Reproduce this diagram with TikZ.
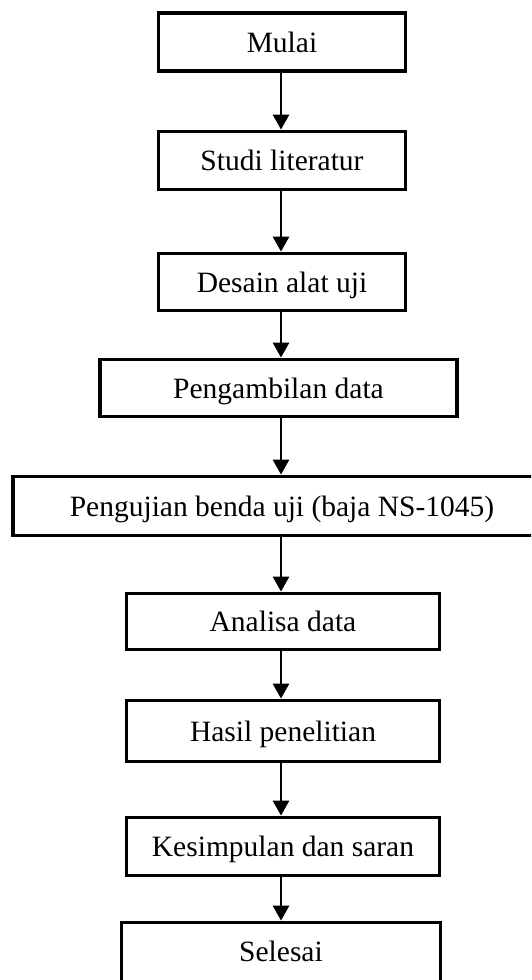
\documentclass[tikz,border=0pt]{standalone}
\usepackage{fontspec}
\setmainfont{Liberation Serif}
\usetikzlibrary{arrows.meta}
\begin{document}
\begin{tikzpicture}[x=1pt,y=-1pt,
  flowbox/.style={draw=black,line width=3.8pt,rectangle,inner sep=0pt,fill=white,
    font=\fontsize{29.5pt}{35pt}\selectfont,text height=20pt,text depth=0pt},
  flowarrow/.style={line width=2.8pt,-{Triangle[length=15pt,width=16pt]}}]
\useasboundingbox (0,0) rectangle (531,980);
\fill[white] (0,0) rectangle (531,980);
\clip (0,0) rectangle (531,980);
\coordinate (ax) at (281,0);
\node[flowbox,minimum width=247pt,minimum height=58pt] (mulai) at (282,42) {Mulai};
\node[flowbox,minimum width=247pt,minimum height=58pt] (studi) at (282,160.5) {Studi literatur};
\node[flowbox,minimum width=247pt,minimum height=57pt] (desain) at (282,282) {Desain alat uji};
\node[flowbox,minimum width=357pt,minimum height=57pt] (ambil) at (278.5,388) {Pengambilan data};
\node[flowbox,minimum width=538pt,minimum height=59pt] (uji) at (282,506) {Pengujian benda uji (baja NS-1045)};
\node[flowbox,minimum width=313pt,minimum height=56pt] (analisa) at (283,621.5) {Analisa data};
\node[flowbox,minimum width=313pt,minimum height=61pt] (hasil) at (283,731) {Hasil penelitian};
\node[flowbox,minimum width=313pt,minimum height=58pt] (simpul) at (283,846.5) {Kesimpulan dan saran};
\node[flowbox,text depth=8pt,minimum width=319pt,minimum height=66pt] (selesai) at (281,955.5) {Selesai};
\draw[flowarrow] (mulai.south -| ax) -- (studi.north -| ax);
\draw[flowarrow] (studi.south -| ax) -- (desain.north -| ax);
\draw[flowarrow] (desain.south -| ax) -- (ambil.north -| ax);
\draw[flowarrow] (ambil.south -| ax) -- (uji.north -| ax);
\draw[flowarrow] (uji.south -| ax) -- (analisa.north -| ax);
\draw[flowarrow] (analisa.south -| ax) -- (hasil.north -| ax);
\draw[flowarrow] (hasil.south -| ax) -- (simpul.north -| ax);
\draw[flowarrow] (simpul.south -| ax) -- (selesai.north -| ax);
\end{tikzpicture}
\end{document}
